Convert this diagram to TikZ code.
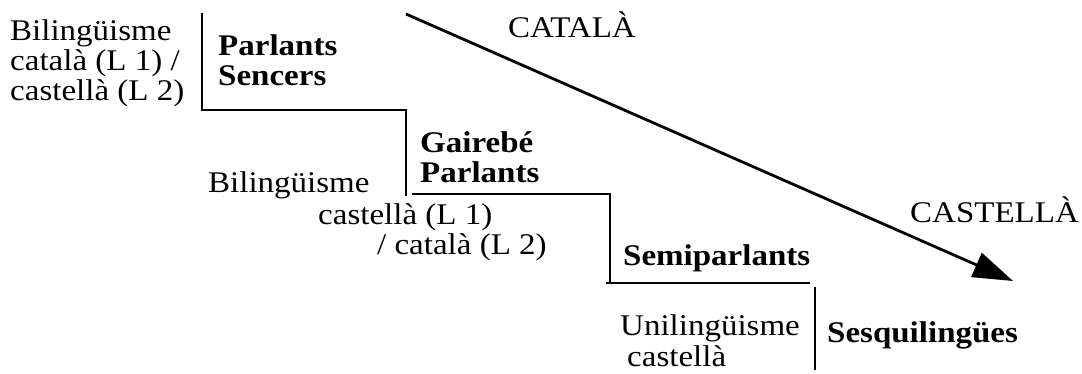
\documentclass[tikz,border=0pt]{standalone}
\usepackage{fontspec}
\setmainfont{Liberation Serif}[FakeStretch=1.1]
\usetikzlibrary{arrows.meta}
\newcommand{\blk}[1]{\begin{tabular}[t]{@{}l@{}}#1\end{tabular}}
\begin{document}
\begin{tikzpicture}[x=1pt,y=-1pt,
  txt/.style={inner sep=0pt,anchor=base west,font=\fontsize{30}{30}\selectfont},
  bld/.style={txt,font=\fontsize{30}{30}\selectfont\bfseries},
  stair/.style={line width=2pt},
  flow/.style={line width=2.8pt,-{Triangle[length=40pt,width=26pt]}}]
\useasboundingbox (0,0) rectangle (1082,373);
% texts
\node[txt] (b1) at (10,40) {\blk{Bilingüisme\\català (L 1) /\\castellà (L 2)}};
\node[bld] (ps) at (218,55) {\blk{Parlants\\Sencers}};
\node[bld] (gp) at (420,152) {\blk{Gairebé\\Parlants}};
\node[txt] (b2) at (208,192) {Bilingüisme};
\node[txt] (c2a) at (318,224) {castellà (L 1)};
\node[txt] (c2b) at (377,254) {/ català (L 2)};
\node[bld] (sp) at (623,265) {Semiparlants};
\node[txt] (un1) at (620,335) {Unilingüisme};
\node[txt] (un2) at (627,366) {castellà};
\node[bld] (sq) at (827,342) {Sesquilingües};
\node[txt] (cat) at (508,37) {CATALÀ};
\node[txt] (cas) at (910,222) {CASTELLÀ};
% staircase
\draw[stair] (202,13) -- (202,110) -- (406,110) -- (406,196);
\draw[stair] (412,194) -- (610,194) -- (610,282);
\draw[stair] (606,283) -- (810,283);
\draw[stair] (815,287) -- (815,370);
% arrow
\coordinate (as) at (406,14);
\coordinate (ae) at (1013,281);
\draw[flow] (as) -- (ae);
\end{tikzpicture}
\end{document}
